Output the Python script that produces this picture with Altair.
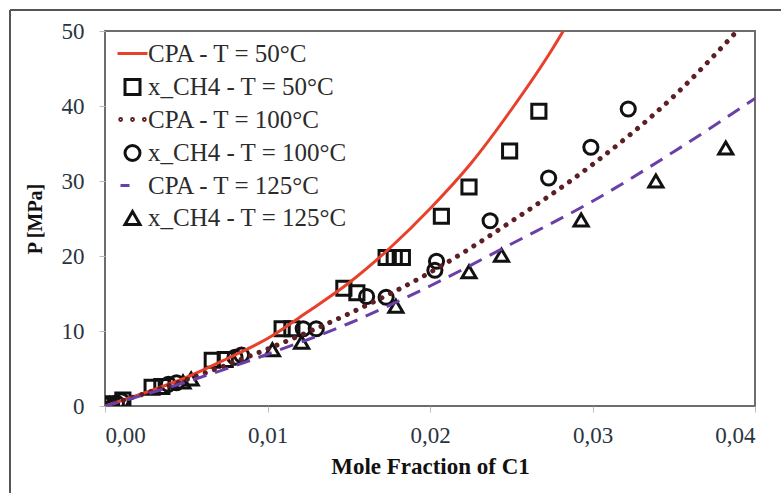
import altair as alt
import pandas as pd

# ---- legend entries / series names ----
series = [
    "CPA - T = 50°C",
    "x_CH4 - T = 50°C",
    "CPA - T = 100°C",
    "x_CH4 - T = 100°C",
    "CPA - T = 125°C",
    "x_CH4 - T = 125°C",
]
series_colors = ["#e8402a", "#111111", "#5c1f24", "#111111", "#6b3fa8", "#111111"]

# ---- CPA model curves (mole fraction of C1, pressure in MPa) ----
cpa50_x = [0, 0.0025, 0.005, 0.0075, 0.01, 0.0125, 0.015, 0.0175, 0.02, 0.0225, 0.025, 0.0275, 0.0282]
cpa50_p = [0, 1.8, 3.8, 6.3, 9.0, 12.6, 16.4, 21.0, 26.3, 32.3, 39.5, 47.5, 50.0]

cpa100_x = [0, 0.005, 0.01, 0.015, 0.02, 0.025, 0.03, 0.035, 0.0389]
cpa100_p = [0, 3.5, 7.6, 12.3, 17.8, 24.6, 32.2, 41.3, 50.0]

cpa125_x = [0, 0.005, 0.01, 0.015, 0.02, 0.025, 0.03, 0.035, 0.04]
cpa125_p = [0, 3.2, 6.9, 11.0, 16.0, 21.6, 27.3, 33.9, 41.0]

# ---- measured x_CH4 points ----
obs50_x = [0.0001, 0.0004, 0.0011, 0.0029, 0.0035, 0.0066, 0.0074, 0.0109, 0.0115,
           0.0147, 0.0155, 0.0173, 0.0178, 0.0183, 0.0207, 0.0224, 0.0249, 0.0267]
obs50_p = [0.1, 0.3, 0.8, 2.5, 2.6, 6.1, 6.2, 10.3, 10.3,
           15.7, 15.1, 19.8, 19.8, 19.8, 25.3, 29.2, 34.0, 39.3]

obs100_x = [0.0007, 0.0010, 0.0039, 0.0044, 0.0080, 0.0084, 0.0122, 0.0130, 0.0161,
            0.0173, 0.0203, 0.0204, 0.0237, 0.0273, 0.0299, 0.0322]
obs100_p = [0.4, 0.7, 2.9, 3.1, 6.5, 6.8, 10.3, 10.3, 14.6,
            14.5, 18.1, 19.3, 24.7, 30.4, 34.5, 39.6]

obs125_x = [0.0003, 0.0048, 0.0053, 0.0103, 0.0121, 0.0179, 0.0224, 0.0244, 0.0293, 0.0339, 0.0382]
obs125_p = [0.3, 3.2, 3.6, 7.5, 8.5, 13.3, 17.9, 20.1, 24.8, 30.0, 34.4]

FONT = "Liberation Serif"
LINE_SYM = "M-2,0L2,0"
DOT_SYM = ("M-1.7,0a0.12,0.12 0 1,0 0.24,0a0.12,0.12 0 1,0 -0.24,0"
           "M-0.12,0a0.12,0.12 0 1,0 0.24,0a0.12,0.12 0 1,0 -0.24,0"
           "M1.46,0a0.12,0.12 0 1,0 0.24,0a0.12,0.12 0 1,0 -0.24,0")
DASH_SYM = "M-1.6,0L-0.4,0"


def frame(xs, ps, name):
    return pd.DataFrame({"x": xs, "p": ps, "series": name})


curves = [
    (frame(cpa50_x, cpa50_p, series[0]), {"strokeWidth": 3}),
    (frame(cpa100_x, cpa100_p, series[2]), {"strokeDash": [0.1, 9.5], "strokeCap": "round", "strokeWidth": 5}),
    (frame(cpa125_x, cpa125_p, series[4]), {"strokeDash": [14, 9], "strokeWidth": 3}),
]
points = pd.concat([
    frame(obs50_x, obs50_p, series[1]),
    frame(obs100_x, obs100_p, series[3]),
    frame(obs125_x, obs125_p, series[5]),
])

x_enc = alt.X(
    "x:Q",
    scale=alt.Scale(domain=[0, 0.04], nice=False),
    axis=alt.Axis(
        values=[0, 0.01, 0.02, 0.03, 0.04],
        labelExpr="replace(format(datum.value, '.2f'), '.', ',')",
        title="Mole Fraction of C1",
        titleFont=FONT, titleFontSize=23, titleFontWeight="bold", titleColor="#111",
        titlePadding=8,
        labelFont=FONT, labelFontSize=23, labelColor="#2a3440", labelPadding=12,
        tickSize=6, tickColor="#bbbbbb", domain=False, grid=False,
    ),
)
y_enc = alt.Y(
    "p:Q",
    scale=alt.Scale(domain=[0, 50], nice=False),
    axis=alt.Axis(
        values=[0, 10, 20, 30, 40, 50],
        title="P [MPa]",
        titleFont=FONT, titleFontSize=20, titleFontWeight="bold", titleColor="#111",
        titlePadding=16,
        labelFont=FONT, labelFontSize=23, labelColor="#2a3440", labelPadding=15,
        tickSize=6, tickColor="#bbbbbb", domain=False, grid=False,
    ),
)
legend_opts = dict(
    title=None, orient="none", legendX=15, legendY=10,
    labelFont=FONT, labelFontSize=25, labelColor="#2b2b2b", labelOffset=3,
    labelLimit=0, symbolSize=225, symbolStrokeWidth=3, rowPadding=6.5, padding=0,
)
color_enc = alt.Color(
    "series:N",
    scale=alt.Scale(domain=series, range=series_colors),
    legend=alt.Legend(**legend_opts),
)
shape_enc = alt.Shape(
    "series:N",
    scale=alt.Scale(domain=series,
                    range=[LINE_SYM, "square", DOT_SYM, "circle", DASH_SYM, "triangle-up"]),
    legend=alt.Legend(**legend_opts),
)

point_layer = alt.Chart(points).mark_point(
    filled=False, strokeWidth=3, size=200, opacity=1, clip=True
).encode(x=x_enc, y=y_enc, color=color_enc, shape=shape_enc)

line_layers = [
    alt.Chart(df).mark_line(interpolate="monotone", clip=True, **style).encode(
        x=x_enc, y=y_enc, color=color_enc, order="x:Q"
    )
    for df, style in curves
]

# outer figure border (top and left edges)
border_top = alt.Chart(pd.DataFrame({"a": [0]})).mark_rule(color="#555555", strokeWidth=2).encode(
    x=alt.value(-95), x2=alt.value(676), y=alt.value(-21)
)
border_left = alt.Chart(pd.DataFrame({"a": [0]})).mark_rule(color="#555555", strokeWidth=2).encode(
    x=alt.value(-95), y=alt.value(-21), y2=alt.value(462)
)

chart = alt.layer(
    point_layer, *line_layers, border_top, border_left
).properties(
    width=650, height=375,
    autosize=alt.AutoSizeParams(type="none"),
    padding={"left": 105, "top": 31, "right": 26, "bottom": 87},
    background="white",
).configure_view(
    stroke="#6d6d6d", strokeWidth=2
)

chart.save("out.html", embed_options={"renderer": "svg", "actions": False})
